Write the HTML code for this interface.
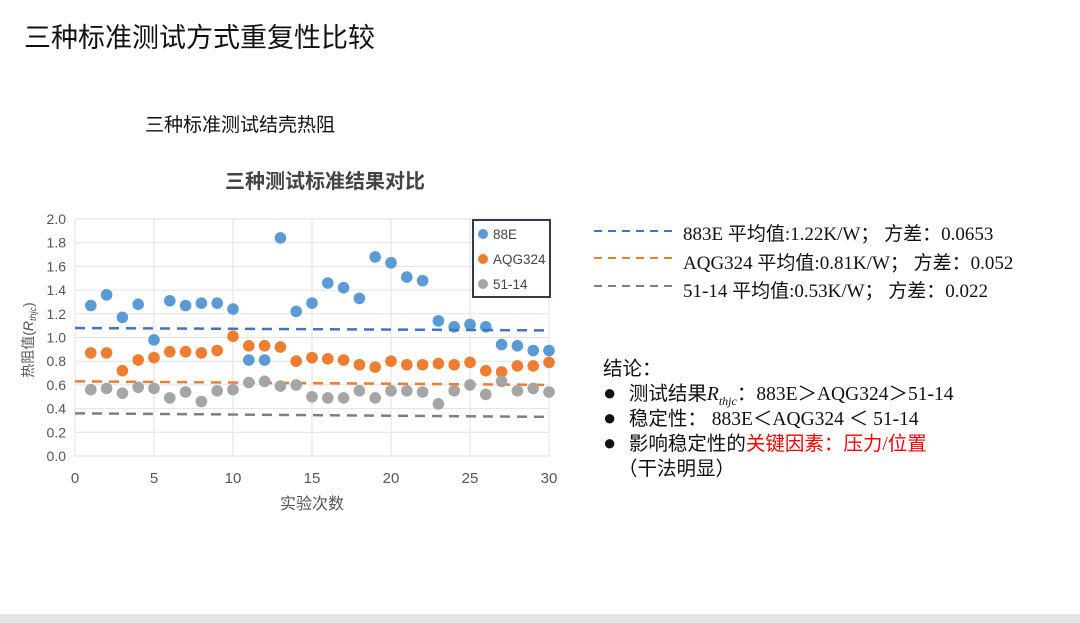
<!DOCTYPE html>
<html><head><meta charset="utf-8"><style>
body{margin:0;width:1080px;height:623px;background:#fff;overflow:hidden;position:relative;font-family:"Liberation Sans","Noto Sans CJK SC",sans-serif}
.t{position:absolute;white-space:nowrap}
.s{font-family:"Liberation Serif","Noto Sans CJK SC",serif}
.b{font-size:22px;display:inline-block;width:21px}
</style></head><body>
<div class="t" style="left:24px;top:16px;font-size:27px;color:#111">三种标准测试方式重复性比较</div>
<div class="t" style="left:145px;top:110px;font-size:19px;color:#111">三种标准测试结壳热阻</div>
<svg id="c" width="1080" height="623" style="position:absolute;left:0;top:0" font-family="Liberation Sans,Noto Sans CJK SC,sans-serif"></svg>
<div class="t s" style="left:683px;top:219px;font-size:19px;color:#111">883E 平均值:1.22K/W；&nbsp;方差：0.0653</div>
<div class="t s" style="left:683px;top:248px;font-size:19px;color:#111">AQG324 平均值:0.81K/W；&nbsp;方差：0.052</div>
<div class="t s" style="left:683px;top:276px;font-size:19px;color:#111">51-14 平均值:0.53K/W；&nbsp;方差：0.022</div>
<div class="t s" style="left:603px;top:352px;font-size:19.5px;color:#111">结论：</div>
<div class="t s" style="left:603px;top:377px;font-size:19.5px;color:#111"><span class="b">●</span> 测试结果<i>R</i><sub style="font-size:12px"><i>thjc</i></sub>：883E＞AQG324＞51-14</div>
<div class="t s" style="left:603px;top:402px;font-size:19.5px;color:#111"><span class="b">●</span> 稳定性：&nbsp;883E＜AQG324 ＜ 51-14</div>
<div class="t s" style="left:603px;top:427px;font-size:19.5px;color:#111"><span class="b">●</span> 影响稳定性的<span style="color:#f00">关键因素：压力/位置</span></div>
<div class="t s" style="left:618px;top:452px;font-size:19.5px;color:#111">（干法明显）</div>
<div style="position:absolute;left:0;top:614px;width:1080px;height:9px;background:#e6e6e6"></div>
<script>
const s=document.getElementById('c');let h='';
const X=v=>75+v*15.8, Y=v=>456-v*118.5;
h+='<text x="325" y="188" font-size="20" font-weight="bold" fill="#444" text-anchor="middle">三种测试标准结果对比</text>';
for(let i=0;i<=10;i++){const y=Y(i*0.2);h+=`<line x1="75" x2="549" y1="${y}" y2="${y}" stroke="#e2e2e2"/><text x="66" y="${y+5}" font-size="14" fill="#555" text-anchor="end">${(i*0.2).toFixed(1)}</text>`;}
for(let i=0;i<=6;i++){const x=X(i*5);h+=`<line x1="${x}" x2="${x}" y1="219" y2="456" stroke="#e2e2e2"/><text x="${x}" y="483" font-size="15" fill="#555" text-anchor="middle">${i*5}</text>`;}
h+='<text x="312" y="509" font-size="16" fill="#555" text-anchor="middle">实验次数</text>';
h+='<text transform="translate(33,340) rotate(-90)" font-size="14" fill="#555" text-anchor="middle">热阻值(<tspan font-style="italic">R</tspan><tspan font-size="9" font-style="italic" dy="3">thjc</tspan><tspan dy="-3">)</tspan></text>';
const B=[1.27,1.36,1.17,1.28,0.98,1.31,1.27,1.29,1.29,1.24,0.81,0.81,1.84,1.22,1.29,1.46,1.42,1.33,1.68,1.63,1.51,1.48,1.14,1.09,1.11,1.09,0.94,0.93,0.89,0.89];
const O=[0.87,0.87,0.72,0.81,0.83,0.88,0.88,0.87,0.89,1.01,0.93,0.93,0.92,0.80,0.83,0.82,0.81,0.77,0.75,0.80,0.77,0.77,0.78,0.77,0.79,0.72,0.71,0.76,0.76,0.79];
const G=[0.56,0.57,0.53,0.58,0.57,0.49,0.54,0.46,0.55,0.56,0.62,0.63,0.59,0.60,0.50,0.49,0.49,0.55,0.49,0.55,0.55,0.54,0.44,0.55,0.60,0.52,0.63,0.55,0.57,0.54];
const dots=(a,c)=>a.forEach((v,i)=>h+=`<circle cx="${X(i+1)}" cy="${Y(v)}" r="5.8" fill="${c}"/>`);
const ln=(a,b,c)=>h+=`<line x1="75" x2="549" y1="${Y(a)}" y2="${Y(b)}" stroke="${c}" stroke-width="2.5" stroke-dasharray="10,7"/>`;
dots(B,'#5b9bd5');ln(1.08,1.06,'#4472c4');
dots(O,'#ed7d31');ln(0.63,0.60,'#ed7d31');
dots(G,'#a5a5a5');ln(0.36,0.33,'#7f7f7f');
h+='<rect x="473" y="220" width="77" height="77" fill="#fff" stroke="#2f3c4f" stroke-width="2"/>';
[['88E','#5b9bd5'],['AQG324','#ed7d31'],['51-14','#a5a5a5']].forEach((d,i)=>{const y=234+i*25;h+=`<circle cx="483" cy="${y}" r="5" fill="${d[1]}"/><text x="493" y="${y+5}" font-size="13.5" fill="#444">${d[0]}</text>`;});
[['#4472c4',231],['#ed7d31',258],['#7f7f7f',286]].forEach(d=>h+=`<line x1="594" x2="675" y1="${d[1]}" y2="${d[1]}" stroke="${d[0]}" stroke-width="2" stroke-dasharray="8,6"/>`);
s.innerHTML=h;
</script>
</body></html>
